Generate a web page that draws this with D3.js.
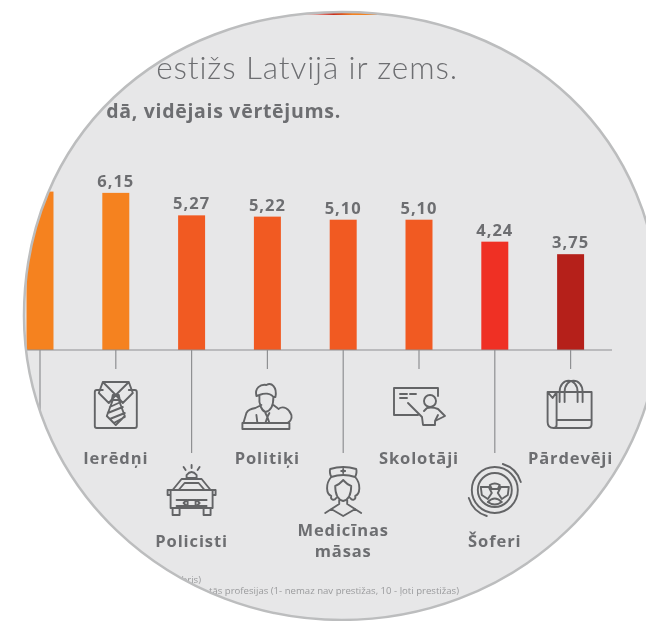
<!DOCTYPE html>
<html>
<head>
<meta charset="utf-8">
<script src="https://cdn.jsdelivr.net/npm/d3@7"></script>
<style>
html,body{margin:0;padding:0;background:#fff;overflow:hidden;}
text{font-family:"Open Sans",sans-serif;fill:#6d6e71;}
</style>
</head>
<body>
<script>
// first category is cut off by the circle, its bar top and name can't be read
var categories = ["", "Ierēdņi", "Policisti", "Politiķi", "Medicīnas māsas", "Skolotāji", "Šoferi", "Pārdevēji"];
var values = [6.2, 6.15, 5.27, 5.22, 5.10, 5.10, 4.24, 3.75];
var valueLabels = ["", "6,15", "5,27", "5,22", "5,10", "5,10", "4,24", "3,75"];
var barColors = ["#f5821f", "#f5821f", "#f15a22", "#f15a22", "#f15a22", "#f15a22", "#ef3024", "#b5201a"];
var titleText = "estižs Latvijā ir zems.";
var subtitleText = "dā, vidējais vērtējums.";
var noteLines = ["bris)", "tās profesijas (1- nemaz nav prestižas, 10 - ļoti prestižas)"];

// icons, drawn around (0,0)
var icons = {
	"Ierēdņi": "M-13,-15H-19Q-21,-15 -21,-13V21Q-21,23 -19,23H19Q21,23 21,21V-13Q21,-15 19,-15H13" +
		"M-13,-23H13L17,-12L7,-2L0,-10L-7,-2L-17,-12ZM-13,-23L0,-10L13,-23" +
		"M-3,-10H3L4,-5H-4ZM-3,-5L-9,11L0,20L9,11L3,-5M-6,2L5,-3M-8,8L7,2M-6,14L9,8M-2,18L9,12",
	"Politiķi": "M-25,18V24H22V18ZM-24,18L-21,8Q-19,4 -12,3L-6,0M6,0L10,3M-10,18L-11,10M-8,-9C-9,0 -5,6 -2,7C3,6 6,1 6,-8" +
		"M-11,-9C-13,-17 -7,-21 -1,-20C4,-23 10,-18 8,-8L6,-8C3,-12 -3,-12 -8,-10Z" +
		"M-2,8L0,12L2,8M-2,18L0,12L2,18M11,4C16,0 22,4 24,10C25,14 22,17 20,18",
	"Policisti": "M-19,-2L-10,-13H10L19,-2M-13,-2L-7,-9H7L13,-2ZM-19,-2H-24V3H-21M19,-2H24V3H21" +
		"M-21,-2V16H21V-2ZM-19,16V23H-12V16M19,16V23H12V16" +
		"M-15,8H-5L-8,11L-5,14H-15M15,8H5L8,11L5,14H15M-4,8H4V14H-4Z" +
		"M-5,-14V-17Q0,-23 5,-17V-14ZM0,-27V-24M-8,-25L-6,-22M8,-25L6,-22",
	"Medicīnas māsas": "M-12,-15Q-14,-20 -13,-23Q0,-27 13,-23Q14,-20 12,-15Q0,-19 -12,-15ZM-12,-15C-18,-8 -17,2 -12,4C-13,8 -9,9 -7,6" +
		"M12,-15C18,-8 17,2 12,4C13,8 9,9 7,6M-8,-6C-8,4 -4,8 0,9C4,8 8,4 8,-6C4,-7 2,-10 0,-12C-2,-10 -4,-7 -8,-6Z" +
		"M-4,8V12L-18,21M4,8V12L18,21M-12,17L0,24L12,17M-2,-21H2M0,-23V-19",
	"Skolotāji": "M19,-9V-17H-25V10H-1M-19,-11H-12M-9,-11H-3M-19,-7H-12M-11,-2L3,12L4,20H16V16L26,11L19,4Q14,2 8,3L5,6M16,16L19,10" +
		"M17,-4A6,6 0 1 0 5,-4A6,6 0 1 0 17,-4",
	"Pārdevēji": "M-14,-13H21V19Q21,23 17,23H-17Q-23,23 -23,17V-13H-14M-14,-13V20Q-14,23 -17,23M-23,-13L-18,-7L-14,-13M-14,15H21" +
		"M-11,-3V-13C-11,-28 7,-28 7,-13V-3M-6,-3V-13C-6,-28 12,-28 12,-13V-3",
	"Šoferi": "M-23,-2A23,23 0 1 1 23,-2A23,23 0 1 1 -23,-2ZM-17,-2A17,17 0 1 1 17,-2A17,17 0 1 1 -17,-2Z" +
		"M-14,-5L-6,-5L-3,1L-7,7L-13,3ZM14,-5L6,-5L3,1L7,7L13,3ZM-7,10Q0,3 7,10Q0,15 -7,10ZM-5,-7Q0,-10 5,-7L3,-3H-3Z" +
		"M8,-28A27,27 0 0 1 26,-10M-8,24A27,27 0 0 1 -26,6"
};

var w = 646;
var h = 621;
var baseY = 350;
var iconRows = [405, 492];
var labelRows = [464, 547];
var lensPath = "M24,316C24,138 158,12 342,12C526,12 660,138 660,316A318,304 0 0 1 24,316Z";

var svg = d3.select("body")
			.append("svg")
			.attr("width",w)
			.attr("height",h);

svg.append("clipPath")
	.attr("id","lens")
	.append("path")
	.attr("d",lensPath);

svg.append("path")
	.attr("d",lensPath)
	.attr("fill","#e7e7e8");

var g = svg.append("g")
			.attr("clip-path","url(#lens)")
			.append("g")
			.style("filter","blur(0.4px)");

var x = d3.scaleBand()
			.domain(categories)
			.range([2.1,608.5])
			.paddingInner(0.644)
			.paddingOuter(0.322);

var y = d3.scaleLinear()
			.domain([0,10])
			.range([baseY,baseY-255.5]);

// header strip of the source, only a sliver shows at the top of the circle
var strip = g.append("defs").append("linearGradient").attr("id","strip");
strip.append("stop").attr("offset","0").attr("stop-color","#ef3024").attr("stop-opacity",0.1);
strip.append("stop").attr("offset","0.3").attr("stop-color","#c9301f");
strip.append("stop").attr("offset","0.5").attr("stop-color","#f5821f");
strip.append("stop").attr("offset","0.85").attr("stop-color","#f5821f");
strip.append("stop").attr("offset","1").attr("stop-color","#f5821f").attr("stop-opacity",0.1);
g.append("rect")
	.attr("x",305)
	.attr("y",10)
	.attr("width",95)
	.attr("height",5)
	.attr("fill","url(#strip)");

g.append("text")
	.attr("x",458)
	.attr("y",79)
	.attr("text-anchor","end")
	.attr("font-size",31.5)
	.attr("font-weight",300)
	.style("font-family","Lato, sans-serif")
	.attr("letter-spacing",0.9)
	.text(titleText);

g.append("text")
	.attr("x",341)
	.attr("y",118)
	.attr("text-anchor","end")
	.attr("font-size",19.5)
	.attr("font-weight",700)
	.attr("letter-spacing",0.7)
	.text(subtitleText);

var bars = g.selectAll("rect.bar")
			.data(categories)
			.enter()
			.append("rect")
			.attr("class","bar")
			.attr("x",function(d){return x(d);})
			.attr("width",x.bandwidth())
			.attr("y",function(d,i){return y(values[i]);})
			.attr("height",function(d,i){return baseY-y(values[i]);})
			.attr("fill",function(d,i){return barColors[i];});

g.selectAll("text.val")
	.data(categories)
	.enter()
	.append("text")
	.attr("class","val")
	.attr("x",function(d){return x(d)+x.bandwidth()/2;})
	.attr("y",function(d,i){return y(values[i])-6;})
	.attr("text-anchor","middle")
	.attr("font-size",16.5)
	.attr("font-weight",700)
	.attr("letter-spacing",1)
	.text(function(d,i){return valueLabels[i];});

var axis = d3.axisBottom(x)
			.tickSize(19)
			.tickSizeOuter(0)
			.tickFormat("");

var ag = g.append("g")
			.attr("transform","translate(0,"+baseY+")")
			.call(axis);
ag.select(".domain").remove();
ag.selectAll(".tick line")
	.attr("stroke","#8f9092")
	.attr("stroke-width",1.2)
	.attr("y2",function(d,i){return i%2===0 ? 103 : 19;});

g.append("line")
	.attr("x1",0)
	.attr("x2",612)
	.attr("y1",baseY)
	.attr("y2",baseY)
	.attr("stroke","#8f9092")
	.attr("stroke-width",1.2);

// icons and names alternate between two rows
g.selectAll("path.icon")
	.data(categories.filter(function(d){return d!=="";}))
	.enter()
	.append("path")
	.attr("class","icon")
	.attr("transform",function(d){
		var row = categories.indexOf(d)%2===0 ? 1 : 0;
		return "translate("+(x(d)+x.bandwidth()/2)+","+iconRows[row]+")";
	})
	.attr("d",function(d){return icons[d];})
	.attr("fill","none")
	.attr("stroke","#636466")
	.attr("stroke-width",1.9)
	.attr("stroke-linejoin","round")
	.attr("stroke-linecap","round");

g.selectAll("text.name")
	.data(categories)
	.enter()
	.append("text")
	.attr("class","name")
	.attr("text-anchor","middle")
	.attr("font-size",16.5)
	.attr("font-weight",700)
	.attr("letter-spacing",0.9)
	.each(function(d,i){
		var row = i%2===0 ? 1 : 0;
		var words = d==="Medicīnas māsas" ? d.split(" ") : [d];
		var top = words.length>1 ? labelRows[row]-11 : labelRows[row];
		d3.select(this).selectAll("tspan")
			.data(words)
			.enter()
			.append("tspan")
			.attr("x",x(d)+x.bandwidth()/2)
			.attr("y",function(t,k){return top+k*21;})
			.text(function(t){return t;});
	});

g.selectAll("text.note")
	.data(noteLines)
	.enter()
	.append("text")
	.attr("class","note")
	.attr("x",function(d,i){return i===0 ? 201 : 459;})
	.attr("y",function(d,i){return 583+i*11;})
	.attr("text-anchor","end")
	.attr("font-size",9.6)
	.style("fill","#9a9b9d")
	.text(function(d){return d;});

svg.append("path")
	.attr("d",lensPath)
	.attr("fill","none")
	.attr("stroke","#bcbdbe")
	.attr("stroke-width",2.5);
</script>
</body>
</html>
